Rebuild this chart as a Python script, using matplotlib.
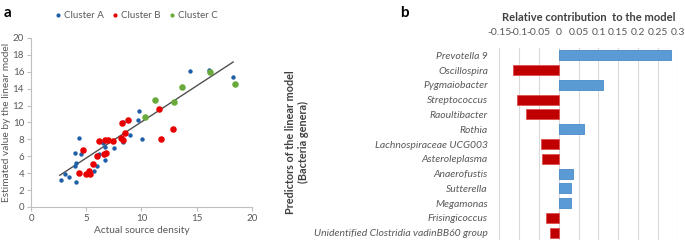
import matplotlib
matplotlib.use("Agg")
import matplotlib.pyplot as plt
import numpy as np

plt.rcParams['font.family'] = ['Lato', 'DejaVu Sans']

# Panel a data
a_x = [2.72, 3.08, 3.47, 3.99, 4.05, 4.02, 4.05, 4.35, 4.53, 5.71, 5.98, 6.16, 6.56, 6.71, 6.74,
       7.49, 8.34, 8.34, 8.97, 9.76, 9.67, 10.03, 14.35, 16.1, 18.25]
a_y = [3.23, 3.87, 3.55, 4.81, 5.21, 6.35, 2.96, 8.2, 6.31, 4.26, 4.81, 6.27, 7.61, 7.1, 5.52,
       7.02, 7.65, 10.06, 8.48, 11.32, 10.26, 8.0, 16.06, 16.17, 15.35]
b_x = [4.68, 4.38, 4.95, 5.29, 5.35, 5.59, 6.01, 6.13, 6.62, 6.8, 6.74, 7.01, 7.4, 8.1, 8.31,
       8.28, 8.49, 8.76, 11.63, 12.84, 11.75]
b_y = [6.7, 4.06, 3.94, 4.26, 3.87, 5.09, 6.04, 7.81, 6.23, 6.43, 7.89, 7.97, 7.81, 8.2, 7.97,
       9.94, 8.76, 10.3, 11.56, 9.23, 8.0]
c_x = [11.18, 10.36, 12.93, 13.7, 16.2, 18.5]
c_y = [12.6, 10.6, 12.4, 14.25, 15.95, 14.5]
fit_x = [2.6, 18.3]
fit_y = [3.75, 17.15]

# Panel b data
genera = ["Prevotella 9", "Oscillospira", "Pygmaiobacter", "Streptococcus", "Raoultibacter",
          "Rothia", "Lachnospiraceae UCG003", "Asteroleplasma", "Anaerofustis", "Sutterella",
          "Megamonas", "Frisingicoccus", "Unidentified Clostridia vadinBB60 group"]
contrib = [0.282, -0.115, 0.112, -0.105, -0.083, 0.063, -0.045, -0.041, 0.036, 0.032, 0.032,
           -0.031, -0.021]
b_ticks = [-0.15, -0.1, -0.05, 0, 0.05, 0.1, 0.15, 0.2, 0.25, 0.3]
b_ticklabels = ["-0.15", "-0.1", "-0.05", "0", "0.05", "0.1", "0.15", "0.2", "0.25", "0.3"]

fig = plt.figure(figsize=(6.85, 2.4), dpi=100)
fs = 7
gray = '#595959'

ax = fig.add_axes([0.0453, 0.1375, 0.3225, 0.7045])
ax.scatter(a_x, a_y, s=10, color='#1F5FA8', label='Cluster A', zorder=3, linewidths=0)
ax.scatter(b_x, b_y, s=22, color='#E80000', label='Cluster B', zorder=3, linewidths=0)
ax.scatter(c_x, c_y, s=22, color='#6AAA3A', label='Cluster C', zorder=3, linewidths=0)
ax.plot(fit_x, fit_y, color='#505050', lw=1.0, zorder=2)
ax.set_xlim(0, 20)
ax.set_ylim(0, 20)
ax.set_xticks([0, 5, 10, 15, 20])
ax.set_yticks(range(0, 21, 2))
for s in ['top', 'right']:
    ax.spines[s].set_visible(False)
for s in ['left', 'bottom']:
    ax.spines[s].set_color('#bfbfbf')
    ax.spines[s].set_linewidth(0.8)
ax.tick_params(colors='#bfbfbf', labelcolor=gray, labelsize=fs, length=3, width=0.8, pad=2)
ax.set_xlabel('Actual source density', fontsize=fs + 0.3, color=gray, labelpad=2)
ax.set_ylabel('Estimated value by the linear model', fontsize=fs + 0.3, color=gray, labelpad=1)
leg = ax.legend(loc='center', bbox_to_anchor=(0.47, 1.135), ncol=3, frameon=False,
                fontsize=fs, handletextpad=0.0, columnspacing=0.6, labelcolor=gray,
                borderaxespad=0, handlelength=1.2)
for h in leg.legend_handles:
    h.set_sizes([9])
fig.text(0.005, 0.975, 'a', fontsize=11, fontweight='bold', va='top', ha='left')

bx = fig.add_axes([0.7285, 0.0, 0.2613, 0.8])
y = np.arange(len(genera))
cols = ['#5B9BD5' if v > 0 else '#C00000' for v in contrib]
edges = ['#4A8AC8' if v > 0 else '#E05050' for v in contrib]
bx.barh(y, contrib, height=0.68, color=cols, edgecolor=edges, linewidth=0.6, zorder=3)
bx.set_xlim(-0.15, 0.3)
bx.set_ylim(12.5, -0.5)
bx.set_xticks(b_ticks)
bx.set_xticklabels(b_ticklabels)
bx.xaxis.tick_top()
bx.xaxis.set_label_position('top')
bx.grid(axis='x', color='#d9d9d9', lw=0.8, zorder=0)
for s in bx.spines.values():
    s.set_visible(False)
bx.tick_params(axis='x', length=0, labelsize=7.5, labelcolor=gray, pad=8)
bx.tick_params(axis='y', length=0, labelsize=7.5, labelcolor=gray, pad=8)
bx.set_yticks(y)
bx.set_yticklabels(genera, style='italic')
bx.set_xlabel('Relative contribution  to the model', fontsize=8, fontweight='bold',
              color='#404040', labelpad=5)
fig.text(297 / 685, 1 - 142 / 240, 'Predictors of the linear model\n(Bacteria genera)',
         rotation=90, fontsize=7.8, fontweight='bold', color='#404040', ha='center',
         va='center', multialignment='center', linespacing=1.3)
fig.text(0.584, 0.975, 'b', fontsize=11, fontweight='bold', va='top', ha='left')

fig.savefig('out.png', dpi=100)
